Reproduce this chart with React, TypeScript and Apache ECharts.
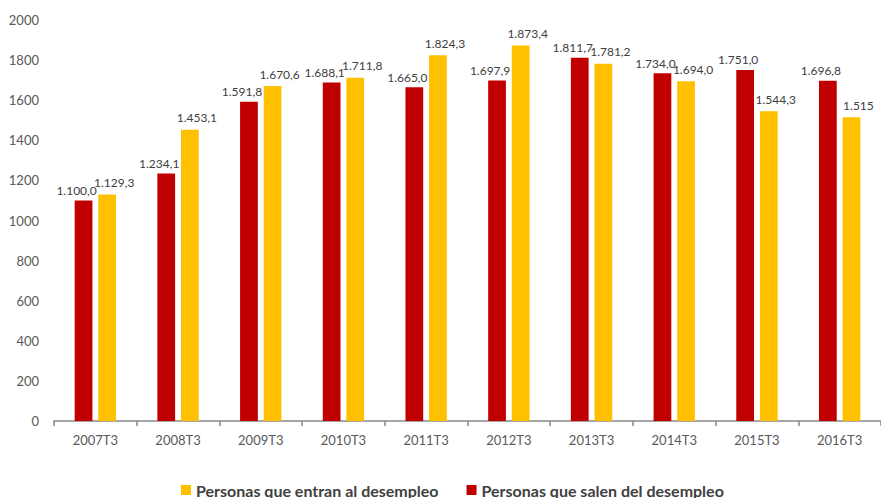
import React, { useEffect, useRef } from "react";
import * as echarts from "echarts";

const categories = ["2007T3", "2008T3", "2009T3", "2010T3", "2011T3", "2012T3", "2013T3", "2014T3", "2015T3", "2016T3"];
const salen = [1100.0, 1234.1, 1591.8, 1688.1, 1665.0, 1697.9, 1811.7, 1734.0, 1751.0, 1696.8];
const entran = [1129.3, 1453.1, 1670.6, 1711.8, 1824.3, 1873.4, 1781.2, 1694.0, 1544.3, 1515];
const entranDecimals = [1, 1, 1, 1, 1, 1, 1, 1, 1, 0];
const yTicks = [0, 200, 400, 600, 800, 1000, 1200, 1400, 1600, 1800, 2000];

const nameEntran = "Personas que entran al desempleo";
const nameSalen = "Personas que salen del desempleo";

function fmt(v: number, dec: number): string {
  const fixed = v.toFixed(dec);
  const [intPart, decPart] = fixed.split(".");
  const withDots = intPart.replace(/\B(?=(\d{3})+(?!\d))/g, ".");
  return decPart !== undefined ? withDots + "," + decPart : withDots;
}

const FONT = "Lato, 'Noto Sans', sans-serif";

export default function App() {
  const ref = useRef<HTMLDivElement>(null);
  useEffect(() => {
    if (!ref.current) return;
    const chart = echarts.init(ref.current, undefined, { renderer: "svg" });
    chart.setOption({
      animation: false,
      textStyle: { fontFamily: FONT },
      grid: { left: 54, right: -7, top: 20, bottom: 77, containLabel: false },
      legend: {
        data: [nameEntran, nameSalen],
        left: 176,
        top: 480,
        padding: [2, 5, 0, 5],
        itemWidth: 10,
        itemHeight: 10,
        itemGap: 28,
        icon: "rect",
        textStyle: { fontFamily: FONT, fontSize: 16, fontWeight: "bold", color: "#404040" },
      },
      xAxis: {
        type: "category",
        data: categories,
        axisLine: { lineStyle: { color: "#898989", width: 1.5 } },
        axisTick: { show: true, length: 5, lineStyle: { color: "#898989", width: 1.5 } },
        axisLabel: { color: "#595959", fontSize: 13, margin: 12, fontFamily: FONT },
      },
      yAxis: {
        type: "value",
        min: yTicks[0],
        max: yTicks[yTicks.length - 1],
        interval: 200,
        axisLine: { show: false },
        axisTick: { show: false },
        splitLine: { show: false },
        axisLabel: {
          color: "#595959",
          fontSize: 13,
          margin: 15,
          fontFamily: FONT,
          formatter: (v: number) => String(v),
        },
      },
      series: [
        {
          name: nameSalen,
          type: "bar",
          data: salen,
          barGap: "33%",
          barCategoryGap: "50%",
          itemStyle: { color: "#C00000" },
          label: {
            show: true,
            position: "top",
            distance: 4,
            offset: [-7, 0],
            color: "#404040",
            fontSize: 12,
            fontFamily: FONT,
            formatter: (p: any) => fmt(p.value, 1),
          },
        },
        {
          name: nameEntran,
          type: "bar",
          data: entran,
          barGap: "33%",
          barCategoryGap: "50%",
          itemStyle: { color: "#FFC000" },
          label: {
            show: true,
            position: "top",
            distance: 6,
            offset: [7, 0],
            color: "#404040",
            fontSize: 12,
            fontFamily: FONT,
            formatter: (p: any) => fmt(p.value, entranDecimals[p.dataIndex]),
          },
        },
      ],
    });
    return () => chart.dispose();
  }, []);
  return <div ref={ref} style={{ width: 881, height: 498, position: "absolute", left: 0, top: 0 }} />;
}
